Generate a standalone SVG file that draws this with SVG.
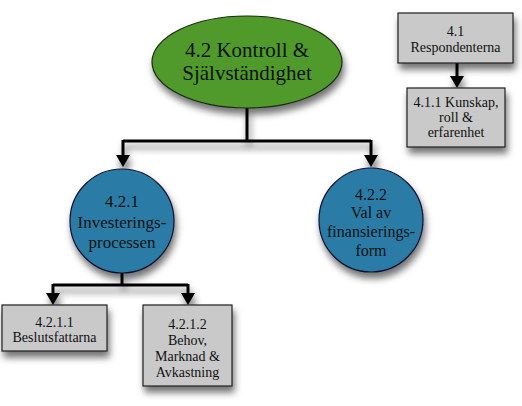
<svg xmlns="http://www.w3.org/2000/svg" width="522" height="406" viewBox="0 0 522 406">
<defs>
<filter id="sh" x="-20%" y="-20%" width="140%" height="160%">
<feDropShadow dx="2" dy="6" stdDeviation="3.5" flood-color="#000" flood-opacity="0.55"/>
</filter>
</defs>
<style>
.box{fill:#c9c9c9;stroke:#222;stroke-width:1.2}
.circ{fill:#2a7ca6;stroke:#113;stroke-width:1.2}
.con{fill:none;stroke:#000;stroke-width:3}
text{font-family:'Liberation Serif','Times New Roman',serif}
</style>
<rect width="522" height="406" fill="#fff"/>
<g id="connectors" filter="url(#sh)">
<path class="con" d="M247,108 V141 M123,141 H371 M123,140 V156 M371,140 V156"/>
<path d="M116,155 L130,155 L123,167 z M364,155 L378,155 L371,167 z"/>
<path class="con" d="M122,273 V285 M53,285 H188 M53,284 V294 M188,284 V294"/>
<path d="M46,293 L60,293 L53,305 z M181,293 L195,293 L188,305 z"/>
<path class="con" d="M457,63 V77"/>
<path d="M450,76 L464,76 L457,88 z"/>
</g>
<g font-family="'Liberation Serif', serif" fill="#111" text-anchor="middle">
<g id="n42">
<ellipse cx="247" cy="62" rx="95" ry="46" fill="#4f9a2c" stroke="#1a2a10" stroke-width="1.2" filter="url(#sh)"/>
<text x="247" y="57" font-size="21">4.2 Kontroll &amp;</text>
<text x="247" y="80" font-size="21">Självständighet</text>
</g>
<g id="n421">
<circle class="circ" cx="122" cy="221" r="52" filter="url(#sh)"/>
<text x="122" y="207" font-size="17">4.2.1</text>
<text x="122" y="228" font-size="17">Investerings-</text>
<text x="122" y="248" font-size="17">processen</text>
</g>
<g id="n422">
<circle class="circ" cx="371" cy="220" r="52" filter="url(#sh)"/>
<text x="371" y="200" font-size="16">4.2.2</text>
<text x="371" y="218" font-size="16">Val av</text>
<text x="371" y="237" font-size="16">finansierings-</text>
<text x="371" y="256" font-size="16">form</text>
</g>
<g id="n4211">
<rect class="box" x="2" y="305" width="105" height="46" filter="url(#sh)"/>
<text x="54.5" y="327" font-size="14">4.2.1.1</text>
<text x="54.5" y="342" font-size="14">Beslutsfattarna</text>
</g>
<g id="n4212">
<rect class="box" x="143" y="305" width="89" height="81" filter="url(#sh)"/>
<text x="187.5" y="329" font-size="14">4.2.1.2</text>
<text x="187.5" y="345" font-size="14">Behov,</text>
<text x="187.5" y="361" font-size="14">Marknad &amp;</text>
<text x="187.5" y="377" font-size="14">Avkastning</text>
</g>
<g id="n41">
<rect class="box" x="398" y="13" width="115" height="50" filter="url(#sh)"/>
<text x="455.5" y="36" font-size="14">4.1</text>
<text x="455.5" y="52" font-size="14">Respondenterna</text>
</g>
<g id="n411">
<rect class="box" x="407" y="88" width="98" height="59" filter="url(#sh)"/>
<text x="456" y="107" font-size="14">4.1.1 Kunskap,</text>
<text x="456" y="122" font-size="14">roll &amp;</text>
<text x="456" y="137" font-size="14">erfarenhet</text>
</g>
</g>
</svg>
